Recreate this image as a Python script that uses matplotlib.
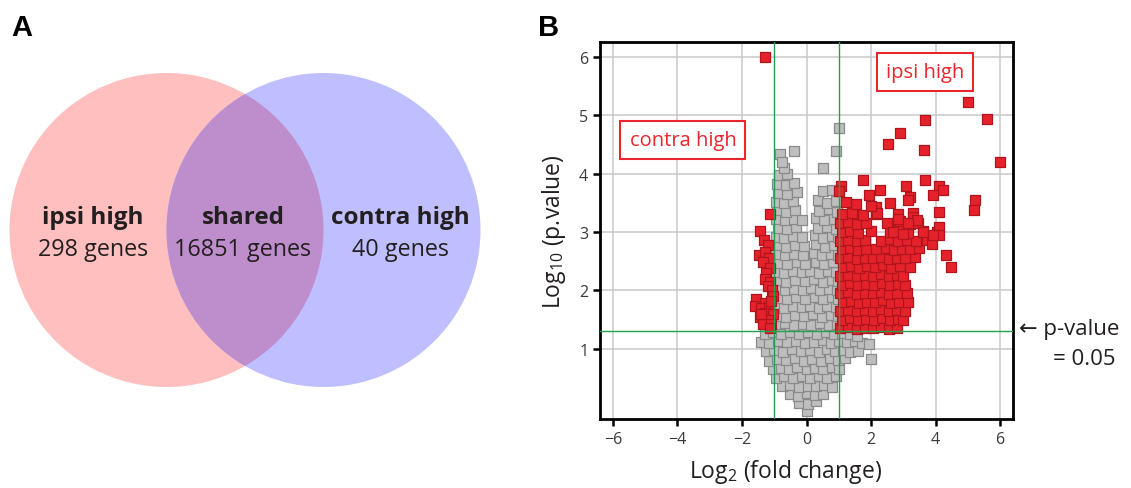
import matplotlib
matplotlib.use("Agg")
import matplotlib.pyplot as plt
from matplotlib.patches import Circle

# ---------------- data ----------------
venn_names = ["ipsi high", "shared", "contra high"]
venn_counts = [298, 16851, 40]

gray_x = [0.0,
          -0.22, 0.05, 0.28,
          -0.5, -0.25, 0.0, 0.25, 0.52,
          -0.75, -0.5, -0.22, 0.05, 0.3, 0.55, 0.8,
          -0.95, -0.7, -0.42, -0.15, 0.1, 0.38, 0.65, 0.9,
          -1.05, -0.8, -0.55, -0.28, 0.0, 0.25, 0.5, 0.78, 1.0,
          -1.15, -0.9, -0.62, -0.35, -0.08, 0.18, 0.45, 0.72, 0.98, 1.2, 2.0,
          -1.25, -1.0, -0.72, -0.45, -0.18, 0.1, 0.38, 0.62, 0.88, 1.12, 1.35, 1.6,
          -1.4, -1.15, -0.88, -0.6, -0.32, -0.05, 0.22, 0.5, 0.75, 1.0, 1.25, 1.5, 1.72, 1.95,
          -1.3, -1.05, -0.78, -0.5, -0.22, 0.05, 0.32, 0.6, 0.85, 1.1, 1.35, 1.58,
          -0.95, -0.68, -0.4, -0.12, 0.15, 0.42, 0.7, 0.95,
          -0.9, -0.62, -0.35, -0.08, 0.2, 0.48, 0.75, 0.97,
          -0.95, -0.7, -0.42, -0.15, 0.12, 0.4, 0.65, 0.92,
          -0.88, -0.6, -0.32, -0.05, 0.25, 0.52, 0.8, 0.98,
          -0.95, -0.68, -0.4, -0.12, 0.15, 0.42, 0.7, 0.95,
          -0.9, -0.62, -0.35, -0.05, 0.22, 0.5, 0.78, 0.98,
          -0.95, -0.7, -0.42, -0.15, 0.12, 0.4, 0.68, 0.92,
          -0.88, -0.6, -0.3, -0.05, 0.3, 0.55, 0.82,
          -0.95, -0.68, -0.4, -0.12, 0.22, 0.48, 0.75, 0.97,
          -0.9, -0.62, -0.35, -0.08, 0.3, 0.58, 0.85,
          -0.95, -0.7, -0.42, -0.15, 0.25, 0.52, 0.8, 0.98,
          -0.88, -0.6, -0.32, 0.35, 0.62, 0.9,
          -0.95, -0.68, -0.4, -0.15, 0.28, 0.55, 0.85,
          -0.9, -0.62, -0.35, 0.4, 0.7, 0.95,
          -0.95, -0.7, -0.42, 0.35, 0.62, 0.9,
          -0.88, -0.6, -0.3, 0.5, 0.78,
          -0.92, -0.65, -0.38,
          -0.85, -0.6, -0.7,
          -0.83, -0.39, 0.5, 0.9, 1.0, -0.75]
gray_y = [-0.07,
          0.08, 0.06, 0.1,
          0.22, 0.2, 0.24, 0.21, 0.23,
          0.36, 0.38, 0.35, 0.37, 0.36, 0.39, 0.35,
          0.5, 0.53, 0.5, 0.54, 0.51, 0.53, 0.5, 0.54,
          0.66, 0.68, 0.65, 0.69, 0.66, 0.68, 0.65, 0.69, 0.66,
          0.8, 0.83, 0.81, 0.84, 0.8, 0.83, 0.8, 0.84, 0.81, 0.85, 0.82,
          0.96, 0.98, 0.95, 0.99, 0.96, 0.98, 0.95, 0.99, 0.96, 0.98, 0.95, 0.97,
          1.12, 1.1, 1.13, 1.11, 1.14, 1.1, 1.12, 1.15, 1.1, 1.13, 1.11, 1.14, 1.1, 1.08,
          1.26, 1.28, 1.25, 1.29, 1.26, 1.28, 1.25, 1.29, 1.26, 1.27, 1.25, 1.22,
          1.42, 1.44, 1.41, 1.43, 1.4, 1.44, 1.41, 1.43,
          1.57, 1.55, 1.58, 1.56, 1.59, 1.55, 1.58, 1.56,
          1.72, 1.7, 1.73, 1.71, 1.74, 1.7, 1.73, 1.71,
          1.87, 1.85, 1.88, 1.86, 1.89, 1.85, 1.88, 1.86,
          2.02, 2.0, 2.03, 2.01, 2.04, 2.0, 2.03, 2.01,
          2.17, 2.15, 2.18, 2.16, 2.19, 2.15, 2.18, 2.16,
          2.32, 2.3, 2.33, 2.31, 2.34, 2.3, 2.33, 2.31,
          2.47, 2.45, 2.48, 2.46, 2.49, 2.45, 2.48,
          2.62, 2.6, 2.63, 2.61, 2.64, 2.6, 2.63, 2.61,
          2.77, 2.75, 2.78, 2.76, 2.79, 2.75, 2.78,
          2.92, 2.9, 2.93, 2.91, 2.94, 2.9, 2.93, 2.91,
          3.07, 3.05, 3.08, 3.06, 3.09, 3.05,
          3.22, 3.2, 3.23, 3.21, 3.24, 3.2, 3.23,
          3.37, 3.35, 3.38, 3.36, 3.39, 3.35,
          3.52, 3.5, 3.53, 3.54, 3.5, 3.53,
          3.67, 3.65, 3.68, 3.7, 3.72,
          3.82, 3.8, 3.83,
          3.97, 3.99, 4.1,
          4.33, 4.38, 4.1, 4.38, 4.78, 4.2]

red_x = [-1.28, -1.14, -1.45, -1.33, -1.2, -1.47, -1.3, -1.15, -1.35, -1.14,
         -1.25, -1.3, -1.12, -1.2, -1.08, -1.55, -1.6, -1.3, -1.42, -1.15,
         -1.3, -1.05, -1.45, -1.2, -1.35, -1.1, -1.14, -1.05, -1.1, -1.4,
         1.05, 1.3, 1.55, 1.8, 2.05, 2.3, 2.55, 2.8,
         1.1, 1.35, 1.6, 1.85, 2.1, 2.35, 2.6, 2.85, 3.0,
         1.05, 1.3, 1.55, 1.8, 2.05, 2.3, 2.55, 2.8, 3.05,
         1.12, 1.38, 1.62, 1.88, 2.12, 2.38, 2.62, 2.88, 3.15,
         1.05, 1.3, 1.55, 1.8, 2.05, 2.3, 2.55, 2.8, 3.1,
         1.1, 1.35, 1.6, 1.85, 2.1, 2.35, 2.6, 2.85, 3.05,
         1.05, 1.3, 1.55, 1.8, 2.05, 2.3, 2.55, 2.8, 3.0,
         1.12, 1.38, 1.62, 1.88, 2.12, 2.38, 2.62, 2.9, 3.2,
         1.05, 1.3, 1.55, 1.8, 2.05, 2.3, 2.55, 2.8, 3.05, 3.35,
         1.1, 1.35, 1.6, 1.85, 2.15, 2.45, 2.7, 2.95, 3.2, 3.5,
         1.05, 1.3, 1.55, 1.8, 2.3, 2.6, 2.85, 3.1, 3.4, 3.75,
         1.1, 1.35, 1.6, 2.0, 2.6, 2.85, 3.15, 3.6, 4.05,
         1.05, 1.3, 1.55, 1.85, 2.5, 2.9, 3.2, 3.45,
         1.1, 1.4, 1.75, 2.15, 2.85, 3.3,
         5.0, 5.59, 5.99, 3.67, 2.91, 2.52, 3.64, 3.67, 1.74, 3.08,
         4.11, 4.24, 3.91, 2.28, 1.95, 5.22, 5.19, 3.22, 3.16, 2.59,
         4.11, 4.32, 4.47, 3.9, 4.11, 4.11, 2.83, 3.3, 3.41, 3.15,
         3.6, 3.91, 2.67, 2.98, 2.15, 2.2, 2.0, 1.53, 1.22, 1.07, 1.02]
red_y = [6.0, 3.31, 3.01, 2.86, 2.78, 2.61, 2.65, 2.55, 2.48, 2.38,
         2.3, 2.2, 2.15, 2.08, 2.0, 1.85, 1.74, 1.78, 1.7, 1.72,
         1.62, 1.6, 1.55, 1.5, 1.43, 1.42, 1.36, 1.9, 1.82, 1.6,
         1.35, 1.37, 1.34, 1.36, 1.35, 1.38, 1.34, 1.36,
         1.5, 1.52, 1.49, 1.51, 1.5, 1.53, 1.49, 1.51, 1.5,
         1.65, 1.67, 1.64, 1.66, 1.65, 1.68, 1.64, 1.66, 1.65,
         1.8, 1.82, 1.79, 1.81, 1.8, 1.83, 1.79, 1.81, 1.8,
         1.95, 1.97, 1.94, 1.96, 1.95, 1.98, 1.94, 1.96, 1.95,
         2.1, 2.12, 2.09, 2.11, 2.1, 2.13, 2.09, 2.11, 2.1,
         2.25, 2.27, 2.24, 2.26, 2.25, 2.28, 2.24, 2.26, 2.25,
         2.4, 2.42, 2.39, 2.41, 2.4, 2.43, 2.39, 2.41, 2.4,
         2.55, 2.57, 2.54, 2.56, 2.55, 2.58, 2.54, 2.56, 2.55, 2.57,
         2.7, 2.72, 2.69, 2.71, 2.7, 2.73, 2.69, 2.71, 2.7, 2.72,
         2.85, 2.87, 2.84, 2.86, 2.85, 2.88, 2.84, 2.86, 2.85, 2.87,
         3.0, 3.02, 2.99, 3.01, 3.0, 3.03, 2.99, 3.01, 3.0,
         3.15, 3.17, 3.14, 3.16, 3.15, 3.18, 3.14, 3.16,
         3.3, 3.32, 3.29, 3.31, 3.3, 3.32,
         5.22, 4.93, 4.2, 4.91, 4.69, 4.5, 4.4, 3.89, 3.89, 3.79,
         3.79, 3.72, 3.64, 3.72, 3.64, 3.54, 3.38, 3.59, 3.54, 3.49,
         3.34, 2.61, 2.4, 2.8, 3.09, 2.95, 3.22, 3.25, 3.2, 3.16,
         3.0, 2.95, 3.0, 2.97, 3.42, 3.33, 3.45, 3.47, 3.51, 3.79, 3.7]

x_ticks = [-6, -4, -2, 0, 2, 4, 6]
y_ticks = [1, 2, 3, 4, 5, 6]
fc_cut = [-1, 1]
p_cut = 1.3

# ---------------- figure ----------------
plt.rcParams['font.family'] = ['Open Sans', 'DejaVu Sans']
plt.rcParams['mathtext.fontset'] = 'custom'
plt.rcParams['mathtext.rm'] = 'Open Sans'
plt.rcParams['mathtext.it'] = 'Open Sans'

W, H = 1131, 489
fig = plt.figure(figsize=(W / 100, H / 100), dpi=100)

# ---- Panel A: Venn ----
axv = fig.add_axes([0, 0, 565.5 / W, 1])
axv.set_xlim(0, 565.5)
axv.set_ylim(H, 0)
axv.axis('off')
left_c = Circle((166.5, 231), 157, facecolor='#ffbfbf', edgecolor='none')
right_c = Circle((323.5, 231), 157, facecolor='#bfbfff', edgecolor='none')
axv.add_patch(left_c)
axv.add_patch(right_c)
lens = Circle((323.5, 231), 157, facecolor='#be8dcc', edgecolor='none')
axv.add_patch(lens)
lens.set_clip_path(left_c)

centers = [93, 243, 400]
for cx, name, cnt in zip(centers, venn_names, venn_counts):
    axv.text(cx, 218, name, ha='center', va='center', fontsize=17.5,
             fontweight='bold', color='#231f20')
    axv.text(cx, 250, f"{cnt} genes", ha='center', va='center', fontsize=16.8,
             color='#231f20')

fig.text(22 / W, 1 - 28 / H, 'A', fontsize=21, fontweight='bold',
         family='Liberation Sans', ha='center', va='center')
fig.text(549 / W, 1 - 28 / H, 'B', fontsize=21, fontweight='bold',
         family='Liberation Sans', ha='center', va='center')

# ---- Panel B: volcano ----
ax = fig.add_axes([600 / W, 69 / H, 413 / W, 377 / H])
ax.set_xlim(-6.4, 6.4)
ax.set_ylim(-0.2, 6.25)
ax.set_xticks(x_ticks)
ax.set_yticks(y_ticks)
ax.grid(True, color='#c9c9c9', linewidth=1.1, zorder=0)
ax.set_axisbelow(True)

ax.scatter(gray_x, gray_y, marker='s', s=54, facecolor='#bebebe',
           edgecolor='#8a8a8a', linewidth=0.9, zorder=2)
ax.scatter(red_x, red_y, marker='s', s=54, facecolor='#e5222b',
           edgecolor='#b0141d', linewidth=0.9, zorder=3)

for xc in fc_cut:
    ax.axvline(xc, color='#22a04a', linewidth=1.0, zorder=4)
ax.axhline(p_cut, color='#22a04a', linewidth=1.0, zorder=4)

for sp in ax.spines.values():
    sp.set_linewidth(2.0)
    sp.set_color('black')
ax.tick_params(axis='both', direction='out', length=5, width=1.8,
               labelsize=11.5, labelcolor='#3a3a3a', color='black')

ax.set_xlabel(r'Log$_{2}$ (fold change)', fontsize=16.5, color='#231f20')
ax.xaxis.set_label_coords(0.45, -0.1, transform=ax.transAxes)
ax.xaxis.label.set_va('top')
ax.set_ylabel(r'Log$_{10}$ (p.value)', fontsize=16.5, color='#231f20',
              labelpad=8)

box = dict(boxstyle='square,pad=0.45', facecolor='white', edgecolor='#e8262e',
           linewidth=1.5)
ax.text(-3.83, 4.57, 'contra high', color='#e8262e', fontsize=14.5,
        ha='center', va='center', bbox=box, zorder=5)
ax.text(3.68, 5.73, 'ipsi high', color='#e8262e', fontsize=14.5,
        ha='center', va='center', bbox=box, zorder=5)

fig.text(1019 / W, 1 - 330 / H, '\u2190 p-value', fontsize=16,
         color='#231f20', ha='left', va='center')
fig.text(1084 / W, 1 - 360 / H, '= 0.05', fontsize=16, color='#231f20',
         ha='center', va='center')

fig.savefig('out.png', dpi=100)
